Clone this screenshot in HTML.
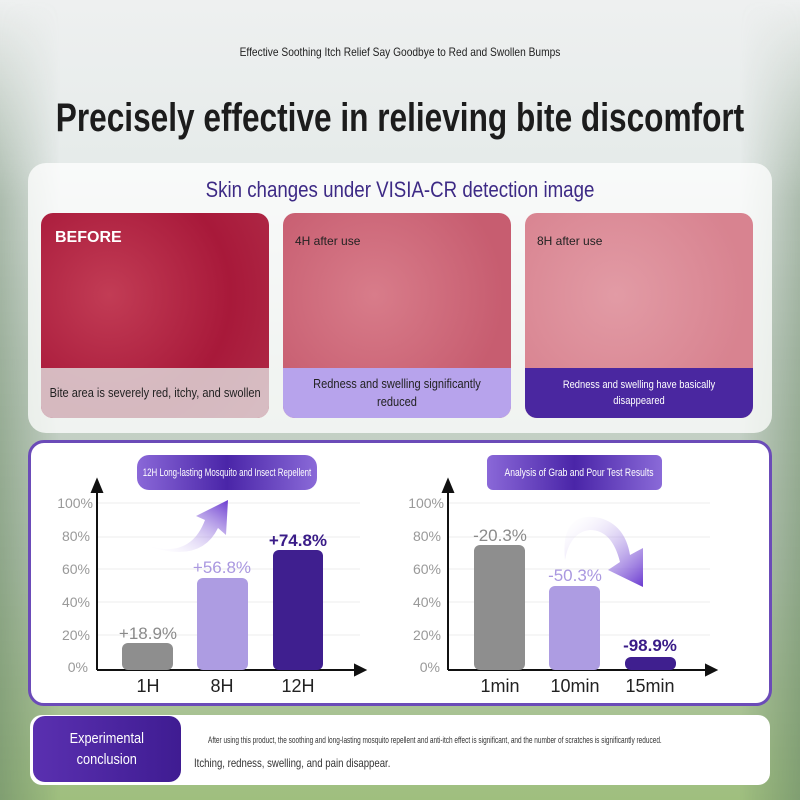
<!DOCTYPE html>
<html><head><meta charset="utf-8"><style>
*{margin:0;padding:0;box-sizing:border-box}
body{width:800px;height:800px;overflow:hidden;position:relative;font-family:"Liberation Sans",sans-serif;
background:linear-gradient(180deg,#eef0f0 0%,#e6ebea 20%,#c9d4cc 45%,#b9c8b8 70%,#9fbf7e 100%);}
.bgl{position:absolute;left:0;top:0;width:60px;height:800px;background:linear-gradient(180deg,rgba(138,160,138,0) 0%,rgba(138,160,138,0.6) 25%,rgba(120,150,110,0.8) 100%);-webkit-mask-image:linear-gradient(90deg,#000,transparent);}
.bgr{position:absolute;right:0;top:0;width:60px;height:800px;background:linear-gradient(180deg,rgba(138,160,138,0) 0%,rgba(138,160,138,0.6) 25%,rgba(120,150,110,0.8) 100%);-webkit-mask-image:linear-gradient(270deg,#000,transparent);}
.abs{position:absolute}
.ctr{position:absolute;left:50%;white-space:nowrap;}
.img{position:absolute;top:213px;width:228px;height:205px;border-radius:12px;overflow:hidden}
.cap{position:absolute;left:0;right:0;bottom:0;height:50px;display:flex;align-items:center;justify-content:center;text-align:center;font-size:13px;line-height:18px}
</style></head><body>
<div class="bgl"></div><div class="bgr"></div>
<div class="ctr" style="top:45px;font-size:12px;color:#222;transform:translateX(-50%) scaleX(0.85)">Effective Soothing Itch Relief Say Goodbye to Red and Swollen Bumps</div>
<div class="ctr" style="top:96px;font-size:40px;font-weight:bold;color:#1c1c1c;transform:translateX(-50%) scaleX(0.79)">Precisely effective in relieving bite discomfort</div>

<div class="abs" style="left:28px;top:163px;width:744px;height:270px;border-radius:18px;background:rgba(255,255,255,0.75)"></div>
<div class="ctr" style="top:177px;font-size:22px;color:#3d2a85;transform:translateX(-50%) scaleX(0.85)">Skin changes under VISIA-CR detection image</div>

<div class="img" style="left:41px;background:radial-gradient(circle at 30% 40%,#c23c55,#a8193a 60%,#b02c48)">
<div class="abs" style="left:14px;top:16px;color:#fff;font-weight:bold;font-size:16px">BEFORE</div>
<div class="cap" style="background:rgba(225,225,225,0.8);color:#222"><span style="transform:scaleX(0.85);display:inline-block;white-space:nowrap">Bite area is severely red, itchy, and swollen</span></div></div>
<div class="img" style="left:283px;background:radial-gradient(circle at 40% 40%,#d87c8a,#c75d70 70%)">
<div class="abs" style="left:12px;top:21px;color:#222;font-size:12px">4H after use</div>
<div class="cap" style="background:#b7a3ec;color:#222"><span style="transform:scaleX(0.85);display:inline-block;width:220px">Redness and swelling significantly reduced</span></div></div>
<div class="img" style="left:525px;background:radial-gradient(circle at 40% 40%,#e29ba5,#d88390 70%)">
<div class="abs" style="left:12px;top:21px;color:#222;font-size:12px">8H after use</div>
<div class="cap" style="background:#4a27a0;color:#fff;font-size:11px;line-height:16px"><span style="transform:scaleX(0.85);display:inline-block;width:200px">Redness and swelling have basically disappeared</span></div></div>

<div class="abs" style="left:28px;top:440px;width:744px;height:266px;border-radius:16px;background:#fff;border:3px solid #6b4bb8"></div>

<svg class="abs" style="left:0;top:0" width="800" height="800">
<defs>
<linearGradient id="p" x1="0" x2="1"><stop offset="0" stop-color="#8a68d8"/><stop offset="0.5" stop-color="#4a25a8"/><stop offset="1" stop-color="#8a6ad8"/></linearGradient>
<linearGradient id="a1" x1="0" y1="1" x2="1" y2="0"><stop offset="0" stop-color="#fff" stop-opacity="0"/><stop offset="1" stop-color="#6a3ad0"/></linearGradient>
<linearGradient id="a2" x1="0" y1="0" x2="1" y2="1"><stop offset="0" stop-color="#fff" stop-opacity="0"/><stop offset="1" stop-color="#6a3ad0"/></linearGradient>
</defs>
<g stroke="#ececec" stroke-width="1">
<line x1="97" y1="503" x2="360" y2="503"/><line x1="97" y1="537" x2="360" y2="537"/><line x1="97" y1="569" x2="360" y2="569"/><line x1="97" y1="602" x2="360" y2="602"/><line x1="97" y1="635" x2="360" y2="635"/>
<line x1="448" y1="503" x2="710" y2="503"/><line x1="448" y1="537" x2="710" y2="537"/><line x1="448" y1="569" x2="710" y2="569"/><line x1="448" y1="602" x2="710" y2="602"/><line x1="448" y1="635" x2="710" y2="635"/>
</g>
<rect x="137" y="455" width="180" height="35" rx="12" fill="url(#p)"/>
<rect x="487" y="455" width="175" height="35" rx="6" fill="url(#p)"/>
<text x="227" y="476" font-size="11" fill="#fff" text-anchor="middle" font-family="Liberation Sans" transform="translate(227 0) scale(0.72 1) translate(-227 0)">12H Long-lasting Mosquito and Insect Repellent</text>
<text x="579" y="476" font-size="11" fill="#fff" text-anchor="middle" font-family="Liberation Sans" transform="translate(579 0) scale(0.78 1) translate(-579 0)">Analysis of Grab and Pour Test Results</text>
<g stroke="#111" stroke-width="2" fill="#111">
<line x1="97" y1="490" x2="97" y2="670"/><line x1="97" y1="670" x2="357" y2="670"/>
<path d="M92 492 L97 480 L102 492Z"/><path d="M355 665 L365 670 L355 675Z"/>
<line x1="448" y1="490" x2="448" y2="670"/><line x1="448" y1="670" x2="708" y2="670"/>
<path d="M443 492 L448 480 L453 492Z"/><path d="M706 665 L716 670 L706 675Z"/>
</g>
<g font-size="14" fill="#999" text-anchor="end" font-family="Liberation Sans">
<text x="93" y="508">100%</text><text x="90" y="541">80%</text><text x="90" y="574">60%</text><text x="90" y="607">40%</text><text x="90" y="640">20%</text><text x="88" y="672">0%</text>
<text x="444" y="508">100%</text><text x="441" y="541">80%</text><text x="441" y="574">60%</text><text x="441" y="607">40%</text><text x="441" y="640">20%</text><text x="440" y="672">0%</text>
</g>
<rect x="122" y="643" width="51" height="27" rx="6" fill="#8e8e8e"/>
<rect x="197" y="578" width="51" height="92" rx="6" fill="#ad9ce2"/>
<rect x="273" y="550" width="50" height="120" rx="6" fill="#3f1f8f"/>
<rect x="474" y="545" width="51" height="125" rx="6" fill="#8e8e8e"/>
<rect x="549" y="586" width="51" height="84" rx="6" fill="#ad9ce2"/>
<rect x="625" y="657" width="51" height="13" rx="6" fill="#3f1f8f"/>
<g font-size="17" text-anchor="middle" font-family="Liberation Sans">
<text x="148" y="639" fill="#8a8a8a">+18.9%</text><text x="222" y="573" fill="#aa98e0">+56.8%</text><text x="298" y="546" fill="#3a1c88" font-weight="bold">+74.8%</text>
<text x="500" y="541" fill="#8a8a8a">-20.3%</text><text x="575" y="581" fill="#aa98e0">-50.3%</text><text x="650" y="651" fill="#3a1c88" font-weight="bold">-98.9%</text>
</g>
<g font-size="18" text-anchor="middle" fill="#222" font-family="Liberation Sans">
<text x="148" y="692">1H</text><text x="222" y="692">8H</text><text x="298" y="692">12H</text>
<text x="500" y="692">1min</text><text x="575" y="692">10min</text><text x="650" y="692">15min</text>
</g>
<path d="M145 545 Q190 560 205 520 L196 516 L228 500 L226 535 L218 528 Q200 565 145 545Z" fill="url(#a1)"/>
<path d="M565 560 Q560 510 600 518 Q625 525 630 555 L643 548 L643 587 L608 570 L620 562 Q612 530 590 530 Q570 532 565 560Z" fill="url(#a2)"/>
</svg>

<div class="abs" style="left:30px;top:715px;width:740px;height:70px;border-radius:12px;background:#fff"></div>
<div class="abs" style="left:33px;top:716px;width:148px;height:66px;border-radius:12px;background:linear-gradient(90deg,#5a30b0,#3f1c92);color:#fff;text-align:center;font-size:15px;line-height:21px;padding-top:12px"><span style="display:inline-block;transform:scaleX(0.85)">Experimental<br>conclusion</span></div>
<div class="abs" style="left:208px;top:735px;font-size:9px;color:#333;white-space:nowrap;transform-origin:left;transform:scaleX(0.72)">After using this product, the soothing and long-lasting mosquito repellent and anti-itch effect is significant, and the number of scratches is significantly reduced.</div>
<div class="abs" style="left:194px;top:756px;font-size:12px;color:#333;white-space:nowrap;transform-origin:left;transform:scaleX(0.8)">Itching, redness, swelling, and pain disappear.</div>
</body></html>
